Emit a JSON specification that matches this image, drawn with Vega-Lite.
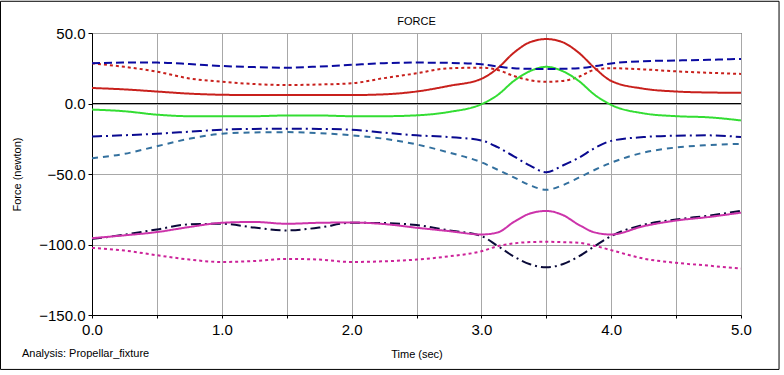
{
  "$schema": "https://vega.github.io/schema/vega-lite/v6.json",
  "width": 649,
  "height": 282,
  "autosize": "none",
  "padding": {"left": 92, "top": 33, "right": 43, "bottom": 60},
  "background": "white",
  "title": {"text": "FORCE", "fontSize": 11, "font": "Liberation Sans", "fontWeight": "normal", "anchor": "middle", "offset": -26, "color": "black"},
  "config": {"view": {"stroke": "black", "strokeWidth": 1}, "font": "Liberation Sans"},
  "datasets": {
    "d": [
      {"t": 0, "rs": 11, "g": -4.3, "rd": 28.5, "nd": 28.6, "ndd": -23.4, "td": -38.8, "bdd": -96, "ms": -95.5, "md": -102.4},
      {"t": 0.25, "rs": 10, "g": -5.5, "rd": 26, "nd": 29, "ndd": -22.5, "td": -35.7, "bdd": -93, "ms": -93.5, "md": -104.3},
      {"t": 0.5, "rs": 8.5, "g": -7.9, "rd": 22.6, "nd": 29, "ndd": -21.4, "td": -30.3, "bdd": -89.3, "ms": -91.2, "md": -107.6},
      {"t": 0.75, "rs": 7, "g": -9, "rd": 17.8, "nd": 28, "ndd": -20, "td": -25, "bdd": -85.7, "ms": -87.6, "md": -110.7},
      {"t": 1, "rs": 6.2, "g": -9, "rd": 15.4, "nd": 26.6, "ndd": -18.6, "td": -21.4, "bdd": -85.3, "ms": -84.6, "md": -112.4},
      {"t": 1.25, "rs": 6, "g": -9, "rd": 13.8, "nd": 25.8, "ndd": -18, "td": -20.5, "bdd": -88, "ms": -84, "md": -111.7},
      {"t": 1.5, "rs": 6, "g": -8.5, "rd": 13.1, "nd": 25.4, "ndd": -17.9, "td": -20.3, "bdd": -90, "ms": -85.3, "md": -110.2},
      {"t": 1.75, "rs": 6, "g": -8.5, "rd": 13.5, "nd": 26.2, "ndd": -18, "td": -21, "bdd": -88, "ms": -84.6, "md": -110.7},
      {"t": 2, "rs": 6, "g": -9, "rd": 14.3, "nd": 27.4, "ndd": -18.6, "td": -22.6, "bdd": -84.6, "ms": -84.4, "md": -112.4},
      {"t": 2.25, "rs": 6.5, "g": -9, "rd": 18, "nd": 28.6, "ndd": -20.7, "td": -25, "bdd": -84.8, "ms": -85.5, "md": -111.9},
      {"t": 2.5, "rs": 8.5, "g": -8.4, "rd": 21.4, "nd": 29, "ndd": -22.6, "td": -29, "bdd": -86.2, "ms": -88.1, "md": -110.7},
      {"t": 2.75, "rs": 12.5, "g": -6, "rd": 25, "nd": 28.8, "ndd": -23.8, "td": -34.8, "bdd": -90, "ms": -90.5, "md": -108.4},
      {"t": 3, "rs": 17.5, "g": -0.5, "rd": 25.4, "nd": 27.8, "ndd": -26.2, "td": -41.7, "bdd": -94, "ms": -92.9, "md": -104.8},
      {"t": 3.125, "rs": 25, "g": 6, "rd": 23.8, "nd": 26.3, "ndd": -31, "td": -47, "bdd": -101, "ms": -91.5, "md": -101.2},
      {"t": 3.25, "rs": 36, "g": 16, "rd": 19.5, "nd": 25, "ndd": -37.5, "td": -52.4, "bdd": -108.5, "ms": -84, "md": -99.2},
      {"t": 3.375, "rs": 43.5, "g": 23, "rd": 16.5, "nd": 24.6, "ndd": -44, "td": -58, "bdd": -114, "ms": -78, "md": -98.3},
      {"t": 3.5, "rs": 45.7, "g": 26, "rd": 15.4, "nd": 24.5, "ndd": -48.8, "td": -61.2, "bdd": -116.2, "ms": -76.2, "md": -98.1},
      {"t": 3.625, "rs": 43.5, "g": 23, "rd": 16, "nd": 24.6, "ndd": -44, "td": -58, "bdd": -114, "ms": -79, "md": -98.3},
      {"t": 3.75, "rs": 36, "g": 16, "rd": 19, "nd": 25, "ndd": -38.5, "td": -52.6, "bdd": -108.5, "ms": -86, "md": -98.8},
      {"t": 3.875, "rs": 25, "g": 6, "rd": 24, "nd": 26.5, "ndd": -31.5, "td": -47, "bdd": -101, "ms": -91.5, "md": -101},
      {"t": 4, "rs": 16, "g": -1, "rd": 25, "nd": 28.4, "ndd": -26.5, "td": -42, "bdd": -94, "ms": -92.9, "md": -104},
      {"t": 4.25, "rs": 10.5, "g": -7, "rd": 24.2, "nd": 30, "ndd": -23.8, "td": -34.8, "bdd": -86, "ms": -87, "md": -110},
      {"t": 4.5, "rs": 8.5, "g": -9, "rd": 22.8, "nd": 30.5, "ndd": -22.8, "td": -31.2, "bdd": -82.3, "ms": -83, "md": -113},
      {"t": 4.75, "rs": 7.8, "g": -9.8, "rd": 21.8, "nd": 31, "ndd": -22.6, "td": -29.5, "bdd": -79.5, "ms": -80.5, "md": -115},
      {"t": 5, "rs": 7.6, "g": -12, "rd": 21, "nd": 31.6, "ndd": -23.8, "td": -28.6, "bdd": -76.2, "ms": -77.4, "md": -117.1}
    ]
  },
  "layer": [
    {
      "data": {"values": [{}]},
      "mark": {"type": "rule", "color": "black", "strokeWidth": 1},
      "encoding": {
        "y": {
          "datum": 0,
          "type": "quantitative",
          "scale": {"domain": [-150, 50], "nice": false, "zero": false},
          "axis": {
            "values": [-150, -125, -100, -75, -50, -25, 0, 25, 50],
            "labelExpr": "datum.value % 50 == 0 ? format(datum.value, '.1f') : ''",
            "grid": true,
            "gridColor": "#a8a8a8",
            "gridWidth": 1,
            "domain": true,
            "domainColor": "black",
            "tickColor": "black",
            "tickSize": 4,
            "labelPadding": 3,
            "labelFontSize": 15,
            "labelColor": "black",
            "labelFont": "Liberation Sans",
            "title": "Force (newton)",
            "titleFontSize": 11,
            "titleFontWeight": "normal",
            "titleColor": "black",
            "titleX": -75,
            "titleY": 141,
            "titleAngle": 270,
            "titleAlign": "center",
            "titleBaseline": "middle"
          }
        }
      }
    },
    {
      "data": {"name": "d"},
      "transform": [{"fold": ["rs", "rd", "g", "nd", "ndd", "td", "bdd", "ms", "md"], "as": ["s", "v"]}],
      "mark": {"type": "line", "interpolate": "monotone", "strokeWidth": 2, "clip": true},
      "encoding": {
        "x": {
          "field": "t",
          "type": "quantitative",
          "scale": {"domain": [0, 5], "nice": false},
          "axis": {
            "values": [0, 0.5, 1, 1.5, 2, 2.5, 3, 3.5, 4, 4.5, 5],
            "labelExpr": "datum.value % 1 == 0 ? format(datum.value, '.1f') : ''",
            "grid": true,
            "gridColor": "#a8a8a8",
            "gridWidth": 1,
            "domainColor": "black",
            "tickColor": "black",
            "tickSize": 3,
            "labelPadding": 4,
            "labelFontSize": 15,
            "labelColor": "black",
            "labelFont": "Liberation Sans",
            "labelFlush": false,
            "title": "Time (sec)",
            "titleFontSize": 11,
            "titleFontWeight": "normal",
            "titleColor": "black",
            "titleX": 324.5,
            "titleY": 39,
            "titleAlign": "center",
            "titleBaseline": "middle"
          }
        },
        "y": {"field": "v", "type": "quantitative"},
        "color": {
          "field": "s",
          "type": "nominal",
          "scale": {
            "domain": ["rs", "rd", "g", "nd", "ndd", "td", "bdd", "ms", "md"],
            "range": ["#c8201c", "#c8201c", "#33dd33", "#0a0aa0", "#0a0a90", "#33709e", "#0a0a38", "#cc33aa", "#cc2299"]
          },
          "legend": null
        },
        "strokeDash": {
          "field": "s",
          "type": "nominal",
          "scale": {
            "domain": ["rs", "rd", "g", "nd", "ndd", "td", "bdd", "ms", "md"],
            "range": [[1, 0], [3, 3], [1, 0], [8, 4], [10, 4, 2, 4], [6, 5], [10, 4, 2, 4], [1, 0], [3, 3]]
          },
          "legend": null
        }
      }
    },
    {
      "data": {"values": [{"label": "Analysis: Propellar_fixture"}]},
      "mark": {"type": "text", "align": "left", "baseline": "middle", "fontSize": 11, "font": "Liberation Sans", "color": "black", "clip": false},
      "encoding": {
        "x": {"datum": -0.539, "type": "quantitative"},
        "y": {"datum": -177.7, "type": "quantitative"},
        "text": {"field": "label"}
      }
    },
    {
      "data": {"values": [{}]},
      "mark": {"type": "rect", "fill": null, "stroke": "black", "strokeWidth": 1, "clip": false},
      "encoding": {
        "x": {"datum": -0.705, "type": "quantitative"},
        "x2": {"datum": 5.293},
        "y": {"datum": 72.5, "type": "quantitative"},
        "y2": {"datum": -188.6}
      }
    }
  ]
}
